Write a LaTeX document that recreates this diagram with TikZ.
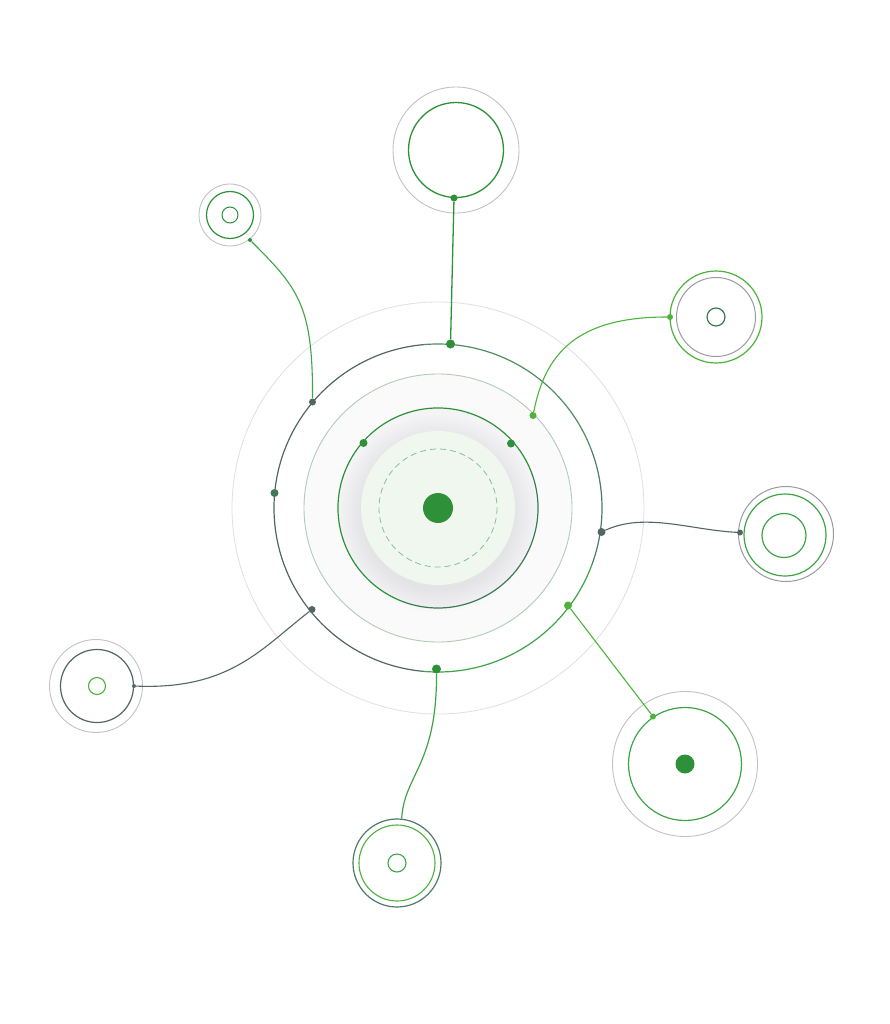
\documentclass[tikz,border=0pt]{standalone}
\definecolor{gA}{HTML}{2E9139}
\definecolor{gL}{HTML}{4DB33A}
\definecolor{gM}{HTML}{3FA447}
\definecolor{slate}{HTML}{536664}
\definecolor{slateg}{HTML}{4F7A68}
\definecolor{grayg}{HTML}{528C62}
\definecolor{ringgray}{HTML}{BFC2C7}
\definecolor{faint}{HTML}{DFE0E3}
\definecolor{pale}{HTML}{B3CAB9}
\definecolor{bgA}{HTML}{FAFAFB}
\definecolor{bgB}{HTML}{F4F4F6}
\definecolor{diskc}{HTML}{EFF7EF}
\definecolor{dashc}{HTML}{86C291}
\definecolor{dgreen}{HTML}{3D7A55}
\begin{document}
\begin{tikzpicture}[x=1pt,y=-1pt,
  ring/.style={circle,draw,inner sep=0pt,fill=none},
  dotn/.style={circle,inner sep=0pt,minimum size=#1},
  dotn/.default=8pt,
  conn/.style={line width=1.3pt}]
\fill[white] (0,0) rectangle (890,1024);
\useasboundingbox (0,0) rectangle (890,1024);
\coordinate (C) at (438,508);
% background discs
\fill[bgA] (C) circle[radius=134];
\fill[bgB] (C) circle[radius=100];
\foreach \i in {0,...,15} \fill[black,opacity=0.005] (438,514) circle[radius=77+\i*1.5];
\fill[diskc] (C) circle[radius=77];
\draw[dashc,line width=0.8pt,dash pattern=on 6pt off 4pt] (C) circle[radius=59];
\fill[gA] (C) circle[radius=15];
% rings of the hub
\draw[faint,line width=0.8pt] (C) circle[radius=206];
\draw[pale,line width=0.9pt] (C) circle[radius=134];
\draw[gA,line width=1.2pt] (C) ++(-20:100) arc[start angle=-20,end angle=-250,radius=100];
\draw[dgreen,line width=1.2pt] (C) ++(-20:100) arc[start angle=-20,end angle=110,radius=100];
\draw[slate,line width=1.2pt,line cap=round] (C) ++(-95:164) arc[start angle=-95,end angle=-265,radius=164];
\draw[grayg,line width=1.2pt,line cap=round] (C) ++(-95:164) arc[start angle=-95,end angle=-20,radius=164];
\draw[slateg,line width=1.2pt,line cap=round] (C) ++(-20:164) arc[start angle=-20,end angle=20,radius=164];
\draw[gM,line width=1.2pt,line cap=round] (C) ++(20:164) arc[start angle=20,end angle=95,radius=164];
% hub dots
\node[dotn=9pt,fill=gA] (Mt) at (450.5,344) {};
\node[dotn=7pt,fill=slate] (Mul) at (312.5,402) {};
\node[dotn=8pt,fill=dgreen] (Ml) at (274.5,493) {};
\node[dotn=7pt,fill=slate] (Mll) at (312,609.5) {};
\node[dotn=9pt,fill=gA] (Mb) at (436.5,669) {};
\node[dotn=8pt,fill=slate] (Mr) at (601.5,532) {};
\node[dotn=8pt,fill=gL] (Mlr) at (568,605.5) {};
\node[dotn=7pt,fill=gL] (Iur) at (533,415.5) {};
\node[dotn=8pt,fill=gA] (Ia) at (363.5,443) {};
\node[dotn=8pt,fill=gA] (Ib) at (511,443.5) {};
% top satellite
\node[ring,draw=ringgray,line width=0.9pt,minimum size=126pt] (To) at (456,150) {};
\node[ring,draw=gA,line width=1.3pt,minimum size=95pt] (Ti) at (456,150) {};
\node[dotn=7pt,fill=gA] (Td) at (454,198) {};
% upper-left satellite
\node[ring,draw=ringgray,line width=0.9pt,minimum size=62pt] (ULo) at (230,215) {};
\node[ring,draw=gA,line width=1.2pt,minimum size=47pt] (ULm) at (230,215) {};
\node[ring,draw=gA,line width=1pt,minimum size=16pt] (ULi) at (230,215) {};
\node[dotn=4pt,fill=gA] (ULd) at (250,240) {};
% right-upper satellite
\node[ring,draw=gL,line width=1.2pt,minimum size=92pt] (RUo) at (716,317) {};
\node[ring,draw=ringgray!80!black,line width=1pt,minimum size=79pt] (RUm) at (716,317) {};
\node[ring,draw=dgreen,line width=1.2pt,minimum size=18pt] (RUi) at (716,317) {};
\node[dotn=6pt,fill=gL] (RUd) at (670,317) {};
% right satellite
\node[ring,draw=ringgray!80!black,line width=1pt,minimum size=95pt] (Ro) at (786,534) {};
\node[ring,draw=gM,line width=1.2pt,minimum size=82pt] (Rm) at (785,535) {};
\node[ring,draw=gM,line width=1.2pt,minimum size=44pt] (Ri) at (784,535.5) {};
\node[dotn=6pt,fill=slate] (Rd) at (740,532.5) {};
% left satellite
\node[ring,draw=ringgray,line width=0.9pt,minimum size=93pt] (Lo) at (96,686) {};
\node[ring,draw=slate,line width=1.2pt,minimum size=73pt] (Lm) at (97,686) {};
\node[ring,draw=gL,line width=1.1pt,minimum size=17pt] (Li) at (97,686) {};
\node[dotn=4pt,fill=slate] (Ld) at (134,686) {};
% lower-right satellite
\node[ring,draw=ringgray,line width=0.9pt,minimum size=145pt] (LRo) at (685,764) {};
\node[ring,draw=gM,line width=1.2pt,minimum size=113pt] (LRm) at (685,764) {};
\node[dotn=19pt,fill=gA] (LRc) at (685,764) {};
\node[dotn=6pt,fill=gL] (LRd) at (653,716.5) {};
% bottom satellite
\node[ring,draw=slateg,line width=1.2pt,minimum size=88pt] (Bo) at (397,863) {};
\node[ring,draw=gL,line width=1.1pt,minimum size=76pt] (Bm) at (397,863) {};
\node[ring,draw=gM,line width=1.1pt,minimum size=18pt] (Bi) at (397,863) {};
% connectors
\draw[conn,gA] (Td) -- (Mt);
\draw[conn,gM,line width=1.1pt] (ULd) .. controls (298,288) and (313,305) .. (Mul);
\draw[conn,gL,line width=1.1pt] (RUd) .. controls (575,317) and (545,355) .. (Iur);
\draw[conn,slate,line width=1.1pt] (Mr) .. controls (645,512) and (690,530) .. (Rd);
\draw[conn,slate,line width=1.1pt] (Ld) .. controls (230,690) and (262,648) .. (Mll);
\draw[conn,gL,line width=1.1pt] (Mlr) -- (LRd);
\draw[conn,gM,line width=1.2pt] (Mb) .. controls (437,765) and (404,775) .. (Bo.84);
\end{tikzpicture}
\end{document}
